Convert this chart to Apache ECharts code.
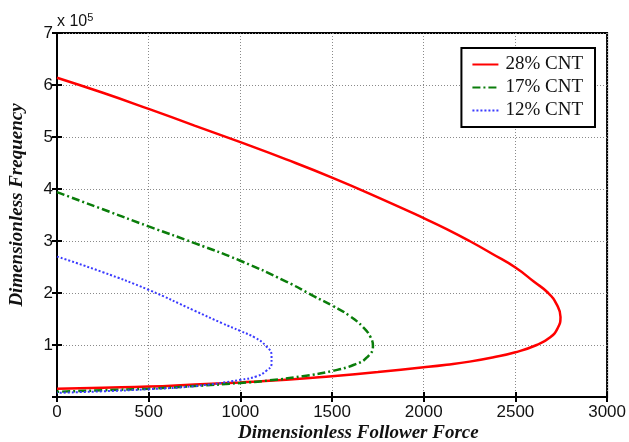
<!DOCTYPE html>
<html>
<head>
<meta charset="utf-8">
<script src="https://cdn.jsdelivr.net/npm/echarts@6/dist/echarts.min.js"></script>
<style>
  html, body { margin: 0; padding: 0; background: #fff; }
  #chart { width: 629px; height: 442px; }
</style>
</head>
<body>
<div id="chart"></div>
<script>
// curves: force (x) and frequency in units of 1e5 (y)
var force28 = [0, 250, 500, 750, 1000, 1250, 1500, 1750, 2000, 2125, 2250, 2375, 2500, 2600, 2679, 2725, 2746, 2730, 2690, 2616, 2500, 2375, 2250, 2125, 2000, 1750, 1500, 1250, 1000, 750, 500, 250, 0];
var freq28  = [6.14, 5.85, 5.54, 5.22, 4.90, 4.57, 4.22, 3.84, 3.44, 3.23, 3.00, 2.75, 2.49, 2.22, 2.00, 1.78, 1.54, 1.32, 1.15, 1.00, 0.86, 0.76, 0.68, 0.62, 0.57, 0.48, 0.40, 0.33, 0.28, 0.24, 0.20, 0.18, 0.16];

var force17 = [0, 250, 500, 750, 1000, 1250, 1400, 1500, 1600, 1670, 1710, 1723, 1690, 1620, 1500, 1340, 1160, 1000, 750, 500, 250, 0];
var freq17  = [3.94, 3.61, 3.28, 2.96, 2.62, 2.22, 1.94, 1.76, 1.55, 1.34, 1.15, 0.98, 0.76, 0.62, 0.50, 0.40, 0.32, 0.27, 0.21, 0.16, 0.13, 0.10];

var force12 = [0, 250, 500, 750, 900, 1000, 1080, 1140, 1170, 1170, 1140, 1090, 1000, 750, 500, 250, 0];
var freq12  = [2.70, 2.40, 2.06, 1.66, 1.42, 1.27, 1.14, 0.98, 0.80, 0.64, 0.50, 0.40, 0.33, 0.21, 0.15, 0.11, 0.08];

var seriesNames = ['28% CNT', '17% CNT', '12% CNT'];
var xTicks = [0, 500, 1000, 1500, 2000, 2500, 3000];
var yTicks = [0, 1, 2, 3, 4, 5, 6, 7];

function pairs(xs, ys) {
  var out = [];
  for (var i = 0; i < xs.length; i++) out.push([xs[i], ys[i]]);
  return out;
}

var chart = echarts.init(document.getElementById('chart'));

var sans = 'Liberation Sans';
var serif = 'Liberation Serif';
var gridLine = { show: true, lineStyle: { color: '#8a8a8a', type: [1, 2], width: 1 } };
var blackTick = { show: true, inside: true, length: 5, lineStyle: { color: '#000', width: 2 } };

var option = {
  animation: false,
  grid: { left: 57, right: 20, top: 33, bottom: 45, show: true, borderColor: '#000', borderWidth: 2 },
  legend: {
    data: seriesNames,
    orient: 'vertical',
    right: 34,
    top: 48,
    padding: [7, 12, 7, 10],
    itemWidth: 26,
    itemHeight: 14,
    itemGap: 4,
    itemStyle: { opacity: 0 },   // hide the round marker, keep the line
    borderColor: '#000',
    borderWidth: 2,
    backgroundColor: '#fff',
    textStyle: { fontFamily: serif, fontSize: 19, color: '#111', padding: [0, 0, 0, 2] }
  },
  xAxis: [{
    type: 'value',
    min: xTicks[0], max: xTicks[xTicks.length - 1], interval: 500,
    axisLine: { show: true, onZero: false, lineStyle: { color: '#000', width: 2 } },
    axisTick: blackTick,
    axisLabel: {
      fontFamily: sans, fontSize: 17, color: '#111', margin: 7,
      formatter: function (v) { return String(v); }
    },
    splitLine: gridLine
  }, {
    type: 'value', position: 'top',
    min: xTicks[0], max: xTicks[xTicks.length - 1], interval: 500,
    axisLine: { show: true, lineStyle: { color: '#000', width: 2 } },
    axisTick: blackTick,
    axisLabel: { show: false },
    splitLine: { show: false }
  }],
  yAxis: [{
    type: 'value',
    min: yTicks[0], max: yTicks[yTicks.length - 1], interval: 1,
    axisLine: { show: true, onZero: false, lineStyle: { color: '#000', width: 2 } },
    axisTick: blackTick,
    axisLabel: {
      fontFamily: sans, fontSize: 17, color: '#111', margin: 4,
      formatter: function (v) { return v === 0 ? '' : String(v); }
    },
    splitLine: gridLine
  }, {
    type: 'value', position: 'right',
    min: yTicks[0], max: yTicks[yTicks.length - 1], interval: 1,
    axisLine: { show: true, lineStyle: { color: '#000', width: 2 } },
    axisTick: blackTick,
    axisLabel: { show: false },
    splitLine: { show: false }
  }],
  graphic: [
    {
      type: 'text', left: 57, top: 12,
      style: {
        text: 'x 10{sup|5}',
        fontFamily: sans, fontSize: 16, fill: '#111',
        rich: { sup: { fontFamily: sans, fontSize: 11, verticalAlign: 'top', padding: [0, 0, 8, 0] } }
      }
    },
    {
      type: 'text', left: 238, top: 424,
      style: { text: 'Dimensionless Follower Force', fontFamily: serif, fontSize: 19, fontWeight: 'bold', fontStyle: 'italic', fill: '#111' }
    },
    {
      type: 'text', x: 17, y: 205, rotation: Math.PI / 2,
      style: { text: 'Dimensionless Frequency', fontFamily: serif, fontSize: 19, fontWeight: 'bold', fontStyle: 'italic', fill: '#111', align: 'center', verticalAlign: 'middle' }
    }
  ],
  series: [
    {
      name: seriesNames[0], type: 'line', showSymbol: false, smooth: 0.5,
      data: pairs(force28, freq28),
      lineStyle: { color: '#ff0000', width: 2.5 }, itemStyle: { color: '#ff0000' }
    },
    {
      name: seriesNames[1], type: 'line', showSymbol: false, smooth: 0.5,
      data: pairs(force17, freq17),
      lineStyle: { color: '#0a7d0a', width: 2.5, type: [8, 3, 2, 3] }, itemStyle: { color: '#0a7d0a' }
    },
    {
      name: seriesNames[2], type: 'line', showSymbol: false, smooth: 0.5,
      data: pairs(force12, freq12),
      lineStyle: { color: '#3a3aff', width: 2, type: [2, 2] }, itemStyle: { color: '#3a3aff' }
    }
  ]
};

chart.setOption(option);
</script>
</body>
</html>
